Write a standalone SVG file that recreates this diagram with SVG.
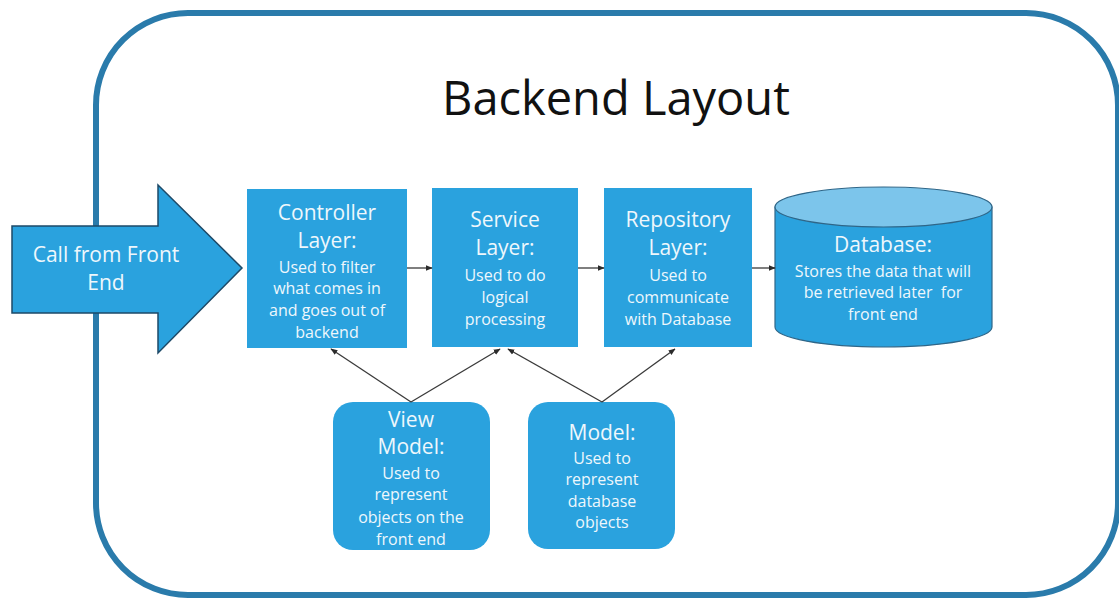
<svg xmlns="http://www.w3.org/2000/svg" width="1119" height="601" viewBox="0 0 1119 601">
<defs>
<marker id="ah" viewBox="0 0 10 10" refX="9" refY="5" markerWidth="7" markerHeight="7" markerUnits="userSpaceOnUse" orient="auto">
<path d="M0,1 L10,5 L0,9 z" fill="#2b2b2b"/>
</marker>
<style>
.box{fill:#2AA2DE;}
.hd{font-family:"Open Sans","Noto Sans","Liberation Sans",sans-serif;font-size:21px;fill:#EEF7FC;text-anchor:middle;}
.tx{font-family:"Open Sans","Noto Sans","Liberation Sans",sans-serif;font-size:16px;fill:#EEF7FC;text-anchor:middle;white-space:pre;}
.cn{stroke:#3a3a3a;stroke-width:1.3;fill:none;marker-end:url(#ah);}
</style>
</defs>
<rect width="1119" height="601" fill="#ffffff"/>
<g id="frame">
<rect x="96" y="13" width="1022" height="582" rx="92" ry="92" fill="#ffffff" stroke="#2A7BAB" stroke-width="6"/>
<text x="616" y="115" font-family="'Open Sans','Noto Sans','Liberation Sans',sans-serif" font-size="47" fill="#111111" text-anchor="middle">Backend Layout</text>
</g>
<g id="call-front-end">
<polygon points="12,226 158,226 158,185 242,268 158,353 158,313 12,313" fill="#2AA2DE" stroke="#1D4A68" stroke-width="1.5"/>
<text class="hd" x="106" y="262">Call from Front</text>
<text class="hd" x="106" y="290">End</text>
</g>
<g id="controller">
<rect class="box" x="247" y="189" width="160" height="159"/>
<text class="hd" x="327" y="220">Controller</text>
<text class="hd" x="327" y="248">Layer:</text>
<text class="tx" x="327" y="273">Used to filter</text>
<text class="tx" x="327" y="294">what comes in</text>
<text class="tx" x="327" y="316">and goes out of</text>
<text class="tx" x="327" y="338">backend</text>
</g>
<g id="service">
<rect class="box" x="432" y="188" width="146" height="159"/>
<text class="hd" x="505" y="227">Service</text>
<text class="hd" x="505" y="255">Layer:</text>
<text class="tx" x="505" y="281">Used to do</text>
<text class="tx" x="505" y="303">logical</text>
<text class="tx" x="505" y="325">processing</text>
</g>
<g id="repository">
<rect class="box" x="604" y="188" width="148" height="159"/>
<text class="hd" x="678" y="227">Repository</text>
<text class="hd" x="678" y="255">Layer:</text>
<text class="tx" x="678" y="281">Used to</text>
<text class="tx" x="678" y="303">communicate</text>
<text class="tx" x="678" y="325">with Database</text>
</g>
<g id="database">
<path d="M775,207 L775,327 A108.5,20 0 0 0 992,327 L992,207 Z" fill="#2AA2DE" stroke="#2F6688" stroke-width="1.2"/>
<ellipse cx="883.5" cy="207" rx="108.5" ry="20" fill="#7CC5EB" stroke="#2F6688" stroke-width="1.2"/>
<text class="hd" x="883" y="252">Database:</text>
<text class="tx" x="883" y="277">Stores the data that will</text>
<text class="tx" x="883" y="298" xml:space="preserve">be retrieved later  for</text>
<text class="tx" x="883" y="320">front end</text>
</g>
<g id="view-model">
<rect class="box" x="333" y="402" width="157" height="148" rx="20" ry="20"/>
<text class="hd" x="411" y="427">View</text>
<text class="hd" x="411" y="454">Model:</text>
<text class="tx" x="411" y="479">Used to</text>
<text class="tx" x="411" y="500">represent</text>
<text class="tx" x="411" y="523">objects on the</text>
<text class="tx" x="411" y="545">front end</text>
</g>
<g id="model">
<rect class="box" x="528" y="402" width="147" height="147" rx="20" ry="20"/>
<text class="hd" x="602" y="440">Model:</text>
<text class="tx" x="602" y="464">Used to</text>
<text class="tx" x="602" y="485">represent</text>
<text class="tx" x="602" y="507">database</text>
<text class="tx" x="602" y="528">objects</text>
</g>
<g id="connectors">
<line class="cn" x1="407" y1="268" x2="432" y2="268"/>
<line class="cn" x1="578" y1="268" x2="604" y2="268"/>
<line class="cn" x1="752" y1="268" x2="775" y2="268"/>
<line class="cn" x1="411" y1="402" x2="331" y2="349"/>
<line class="cn" x1="411" y1="402" x2="500" y2="349"/>
<line class="cn" x1="602" y1="402" x2="508" y2="349"/>
<line class="cn" x1="602" y1="402" x2="675" y2="349"/>
</g>
</svg>
